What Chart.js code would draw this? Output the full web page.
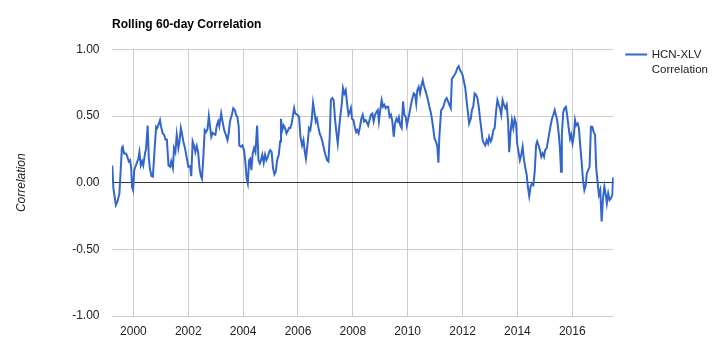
<!DOCTYPE html>
<html>
<head>
<meta charset="utf-8">
<script src="https://cdn.jsdelivr.net/npm/chart.js@4/dist/chart.umd.min.js"></script>
<style>
html,body{margin:0;padding:0;background:#fff;}
#wrap{width:720px;height:355px;position:relative;}
</style>
</head>
<body>
<div id="wrap"><canvas id="c" width="720" height="355"></canvas></div>
<script>
const chartTitle = 'Rolling 60-day Correlation';
const seriesName = ['HCN-XLV', 'Correlation'];
const yAxisTitle = 'Correlation';
const xTickYears = [2000, 2002, 2004, 2006, 2008, 2010, 2012, 2014, 2016];
const yTickValues = [-1, -0.5, 0, 0.5, 1];

const years = [1999.23,1999.27,1999.36,1999.42,1999.49,1999.53,1999.58,1999.61,1999.66,1999.73,1999.78,1999.83,1999.88,1999.92,1999.95,1999.99,
2000.03,2000.07,2000.12,2000.18,2000.22,2000.27,2000.32,2000.36,2000.43,2000.46,2000.52,2000.56,2000.60,2000.66,2000.71,2000.77,2000.83,2000.87,2000.93,2000.97,
2001.01,2001.07,2001.12,2001.17,2001.22,2001.28,2001.34,2001.38,2001.44,2001.48,2001.53,2001.58,2001.64,2001.68,2001.73,2001.77,2001.82,2001.88,2001.95,2002.00,
2002.07,2002.11,2002.16,2002.21,2002.26,2002.31,2002.36,2002.41,2002.46,2002.50,2002.55,2002.60,2002.65,2002.70,2002.75,2002.80,2002.84,2002.89,2002.94,2002.99,
2003.04,2003.09,2003.13,2003.20,2003.24,2003.31,2003.37,2003.43,2003.48,2003.52,2003.60,2003.64,2003.70,2003.74,2003.79,2003.84,2003.86,2003.91,2003.97,2004.03,
2004.08,2004.13,2004.17,2004.22,2004.26,2004.30,2004.35,2004.40,2004.45,2004.51,2004.56,2004.61,2004.65,2004.70,2004.75,2004.80,2004.85,2004.90,2004.95,2004.99,
2005.04,2005.09,2005.14,2005.19,2005.24,2005.30,2005.35,2005.38,2005.43,2005.48,2005.53,2005.58,2005.63,2005.67,2005.72,2005.77,2005.82,2005.86,2005.90,2005.98,
2006.04,2006.09,2006.15,2006.20,2006.25,2006.29,2006.36,2006.40,2006.45,2006.50,2006.55,2006.60,2006.65,2006.69,2006.74,2006.79,2006.84,2006.89,2006.94,2007.00,
2007.06,2007.11,2007.16,2007.20,2007.25,2007.30,2007.35,2007.40,2007.45,2007.50,2007.54,2007.60,2007.64,2007.69,2007.74,2007.79,2007.84,2007.89,2007.93,2007.97,
2008.02,2008.07,2008.12,2008.16,2008.21,2008.26,2008.31,2008.36,2008.41,2008.47,2008.53,2008.56,2008.62,2008.66,2008.71,2008.76,2008.81,2008.86,2008.91,2008.95,
2009.00,2009.05,2009.10,2009.15,2009.20,2009.25,2009.29,2009.34,2009.39,2009.44,2009.49,2009.54,2009.59,2009.64,2009.68,2009.73,2009.78,2009.83,2009.88,2009.93,
2009.97,2010.02,2010.07,2010.12,2010.17,2010.22,2010.27,2010.31,2010.35,2010.40,2010.45,2010.50,2010.55,2010.59,2010.64,2010.69,2010.74,2010.79,2010.84,2010.89,
2010.93,2010.98,2011.03,2011.08,2011.12,2011.15,2011.19,2011.22,2011.28,2011.32,2011.37,2011.42,2011.47,2011.52,2011.57,2011.61,2011.66,2011.71,2011.76,2011.81,
2011.86,2011.91,2011.95,2012.00,2012.05,2012.10,2012.15,2012.20,2012.24,2012.30,2012.34,2012.39,2012.44,2012.49,2012.54,2012.59,2012.63,2012.68,2012.73,2012.78,
2012.83,2012.88,2012.93,2012.97,2013.03,2013.07,2013.12,2013.17,2013.22,2013.27,2013.32,2013.36,2013.41,2013.46,2013.51,2013.56,2013.61,2013.66,2013.70,2013.75,
2013.80,2013.85,2013.90,2013.95,2013.99,2014.05,2014.09,2014.14,2014.19,2014.24,2014.29,2014.34,2014.38,2014.43,2014.48,2014.53,2014.58,2014.63,2014.68,2014.72,
2014.77,2014.82,2014.87,2014.92,2014.97,2015.01,2015.07,2015.11,2015.16,2015.21,2015.26,2015.31,2015.36,2015.40,2015.45,2015.50,2015.55,2015.59,2015.62,2015.67,
2015.72,2015.77,2015.82,2015.87,2015.92,2015.96,2016.01,2016.06,2016.10,2016.14,2016.20,2016.24,2016.29,2016.34,2016.39,2016.44,2016.49,2016.53,2016.58,2016.63,
2016.68,2016.73,2016.78,2016.83,2016.87,2016.92,2016.97,2017.02,2017.07,2017.12,2017.17,2017.22,2017.26,2017.31,2017.36,2017.41,2017.46,2017.49];

const correlation = [0.13,-0.04,-0.167,-0.14,-0.08,0.07,0.26,0.27,0.22,0.22,0.195,0.16,0.17,0.11,-0.03,-0.055,
0.095,0.12,0.145,0.18,0.23,0.13,0.16,0.13,0.23,0.25,0.43,0.195,0.11,0.05,0.045,0.245,0.42,0.41,0.445,0.47,
0.42,0.37,0.36,0.325,0.325,0.13,0.12,0.16,0.11,0.26,0.23,0.36,0.26,0.31,0.41,0.37,0.31,0.26,0.18,0.12,
0.125,0.05,0.31,0.28,0.23,0.275,0.23,0.11,0.05,0.03,0.195,0.395,0.38,0.40,0.50,0.41,0.345,0.375,0.365,0.36,
0.43,0.46,0.425,0.52,0.47,0.395,0.36,0.32,0.38,0.46,0.52,0.56,0.545,0.51,0.495,0.42,0.28,0.27,0.28,0.245,
0.16,0.03,-0.005,0.17,0.18,0.095,0.22,0.26,0.23,0.43,0.17,0.145,0.17,0.21,0.15,0.21,0.17,0.195,0.23,0.245,
0.23,0.11,0.063,0.083,0.17,0.21,0.31,0.48,0.395,0.43,0.41,0.37,0.39,0.41,0.41,0.445,0.51,0.56,0.52,0.51,
0.495,0.345,0.28,0.32,0.23,0.18,0.31,0.41,0.395,0.47,0.60,0.53,0.46,0.48,0.42,0.37,0.345,0.31,0.26,0.21,
0.17,0.16,0.36,0.62,0.635,0.62,0.48,0.38,0.295,0.41,0.495,0.595,0.71,0.67,0.695,0.595,0.51,0.53,0.56,0.48,
0.47,0.42,0.38,0.395,0.37,0.42,0.48,0.51,0.46,0.47,0.445,0.43,0.48,0.51,0.52,0.46,0.51,0.53,0.545,0.46,
0.545,0.62,0.57,0.585,0.56,0.57,0.57,0.495,0.51,0.46,0.345,0.445,0.48,0.46,0.49,0.43,0.41,0.61,0.51,0.495,
0.43,0.48,0.53,0.585,0.635,0.67,0.66,0.595,0.695,0.72,0.67,0.73,0.77,0.73,0.695,0.66,0.62,0.57,0.53,0.47,
0.41,0.33,0.31,0.27,0.15,0.33,0.46,0.545,0.56,0.585,0.62,0.635,0.61,0.585,0.56,0.78,0.795,0.81,0.83,0.86,
0.875,0.845,0.83,0.81,0.76,0.71,0.61,0.52,0.445,0.48,0.545,0.57,0.67,0.66,0.635,0.57,0.495,0.41,0.32,0.295,
0.28,0.32,0.295,0.345,0.31,0.33,0.395,0.41,0.53,0.62,0.585,0.56,0.51,0.62,0.585,0.56,0.585,0.46,0.23,0.38,
0.47,0.41,0.48,0.445,0.295,0.22,0.17,0.21,0.27,0.17,0.11,0.058,-0.03,-0.1,-0.03,-0.005,-0.017,0.083,0.28,0.31,
0.28,0.245,0.195,0.22,0.195,0.245,0.26,0.31,0.37,0.43,0.48,0.51,0.545,0.51,0.47,0.38,0.26,0.083,0.36,0.53,
0.56,0.57,0.495,0.41,0.33,0.36,0.295,0.36,0.47,0.43,0.445,0.41,0.28,0.16,0.02,-0.055,-0.017,0.07,0.095,0.12,
0.42,0.42,0.38,0.36,0.12,0.008,-0.09,-0.055,-0.29,-0.117,-0.03,-0.09,-0.155,-0.08,-0.13,-0.117,-0.09,0.04];

const FONT = '"Liberation Sans", Arial, Helvetica, sans-serif';
const LINE_COLOR = '#3366cc';

const points = years.map((x, i) => ({x: x, y: correlation[i]}));

const titleLegendPlugin = {
  id: 'titleLegend',
  afterDraw(chart) {
    const ctx = chart.ctx;
    const area = chart.chartArea;
    ctx.save();
    ctx.fillStyle = '#000';
    ctx.font = 'bold 12px ' + FONT;
    ctx.textBaseline = 'alphabetic';
    ctx.textAlign = 'left';
    ctx.fillText(chartTitle, area.left, 27.5);
    // legend
    const lx = area.right + 11.5;
    const ly = area.top + 5;
    ctx.strokeStyle = LINE_COLOR;
    ctx.lineWidth = 2;
    ctx.beginPath();
    ctx.moveTo(lx, ly);
    ctx.lineTo(lx + 22, ly);
    ctx.stroke();
    ctx.fillStyle = '#222';
    ctx.font = '11.5px ' + FONT;
    ctx.textBaseline = 'middle';
    ctx.fillText(seriesName[0], lx + 26.5, ly);
    ctx.fillText(seriesName[1], lx + 26.5, ly + 15.5);
    ctx.restore();
  }
};

new Chart(document.getElementById('c'), {
  type: 'line',
  data: {
    datasets: [{
      label: seriesName.join(' '),
      data: points,
      borderColor: LINE_COLOR,
      backgroundColor: LINE_COLOR,
      borderWidth: 2,
      pointRadius: 0,
      tension: 0,
      fill: false
    }]
  },
  options: {
    responsive: false,
    animation: false,
    devicePixelRatio: 1,
    layout: {padding: {top: 49.5, right: 106.3, left: 0, bottom: 0}},
    plugins: {
      legend: {display: false},
      title: {display: false},
      tooltip: {enabled: false}
    },
    scales: {
      x: {
        type: 'linear',
        min: 1999.22,
        max: 2017.51,
        afterBuildTicks(scale) { scale.ticks = xTickYears.map(v => ({value: v})); },
        afterFit(scale) { scale.height = 39; },
        ticks: {
          autoSkip: false,
          maxRotation: 0,
          padding: 8,
          color: '#222',
          font: {family: FONT, size: 12},
          callback: (v) => String(v)
        },
        grid: {color: '#cccccc', lineWidth: 1, drawTicks: false},
        border: {display: false}
      },
      y: {
        type: 'linear',
        min: -1,
        max: 1,
        afterBuildTicks(scale) { scale.ticks = yTickValues.map(v => ({value: v})); },
        afterFit(scale) { scale.width = 112; },
        ticks: {
          padding: 12.5,
          color: '#222',
          font: {family: FONT, size: 12},
          callback: (v) => Number(v).toFixed(2)
        },
        grid: {
          color: (c) => (c.tick && c.tick.value === 0) ? '#333333' : '#cccccc',
          lineWidth: 1,
          drawTicks: false
        },
        border: {display: false},
        title: {
          display: true,
          text: yAxisTitle,
          color: '#222',
          font: {family: FONT, size: 12, style: 'italic'},
          padding: {top: 14, bottom: 0}
        }
      }
    }
  },
  plugins: [titleLegendPlugin]
});
</script>
</body>
</html>
